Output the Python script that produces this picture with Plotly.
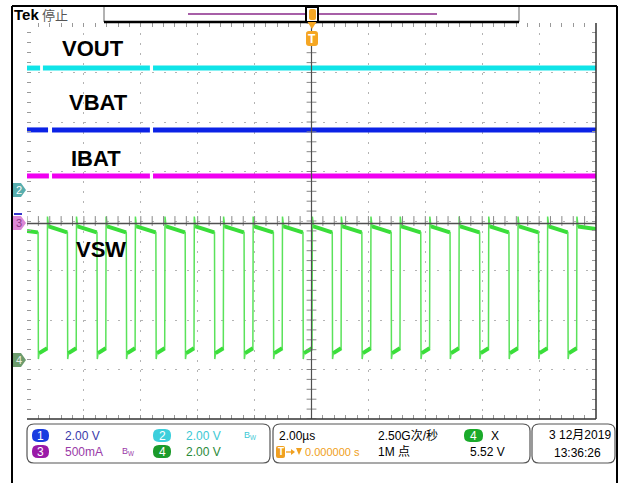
import plotly.graph_objects as go

# ---------------- data ----------------
# time base: 2.00 us/div, 10 divisions -> -10..10 us
time_range_us = [-10, 10]
# channel scales (per division) and ground-marker offsets (divisions from centre)
ch_scale = {"1": 2.0, "2": 2.0, "3": 0.5, "4": 2.0}
ch_offset = {"1": 0.14, "2": 0.63, "3": -0.04, "4": -2.81}

# flat traces: level and visible segments (us)
vout_level_v = 4.92            # CH2
vout_segments_us = [(-10, -9.54), (-9.44, -5.68), (-5.57, 10)]
vbat_level_v = 3.40            # CH1
vbat_segments_us = [(-10, -9.26), (-9.12, -5.68), (-5.57, 10)]
ibat_level_a = 0.475           # CH3
ibat_segments_us = [(-10, -9.23), (-9.12, -5.68), (-5.57, 10)]

# VSW (CH4) switching waveform: edge times (us) and levels (V)
vsw_fall_us = [-9.61, -8.58, -7.54, -6.51, -5.47, -4.44, -3.41, -2.37, -1.34, -0.30,
               0.73, 1.77, 2.80, 3.84, 4.87, 5.91, 6.94, 7.98, 9.01]
vsw_rise_us = [-9.29, -8.27, -7.23, -6.20, -5.16, -4.13, -3.10, -2.06, -1.03, 0.02,
               1.04, 2.08, 3.11, 4.15, 5.18, 6.22, 7.25, 8.29, 9.32]
vsw_high_after_rise = 5.40
vsw_high_before_fall = 5.16
vsw_overshoot = 5.80
vsw_undershoot = 0.04
vsw_low_start = 0.28
vsw_low_end = 0.48
vsw_left_level = 5.22
vsw_right_level = 5.30

cursor_v = 5.52  # CH4 cursor readout

labels = ["VOUT", "VBAT", "IBAT", "VSW"]

# ---------------- geometry helpers ----------------
W, H = 619, 483
GL, GR, GT, GB = 27, 596, 23, 419   # graticule edges in pixels


def px(x):
    return (x - GL) / (GR - GL)


def py(y):
    return (GB - y) / (GB - GT)


def div(v, ch):
    return v / ch_scale[ch] + ch_offset[ch]


def rrect(x0, y0, x1, y1, r):
    pts = [
        ("M", x0 + r, y0), ("L", x1 - r, y0), ("Q", x1, y0, x1, y0 + r),
        ("L", x1, y1 - r), ("Q", x1, y1, x1 - r, y1), ("L", x0 + r, y1),
        ("Q", x0, y1, x0, y1 - r), ("L", x0, y0 + r), ("Q", x0, y0, x0 + r, y0),
    ]
    s = ""
    for p in pts:
        cmd = p[0]
        coords = p[1:]
        parts = []
        for i in range(0, len(coords), 2):
            parts.append(f"{px(coords[i]):.5f},{py(coords[i + 1]):.5f}")
        s += cmd + " " + " ".join(parts) + " "
    return s + "Z"


def poly(points):
    s = ""
    for i, (x, y) in enumerate(points):
        s += ("M " if i == 0 else "L ") + f"{px(x):.5f},{py(y):.5f} "
    return s + "Z"


fig = go.Figure()


# ---------------- flat traces ----------------
def seg_trace(segments, level, ch, color, width):
    xs, ys = [], []
    for a, b in segments:
        xs += [a, b, None]
        ys += [div(level, ch), div(level, ch), None]
    fig.add_trace(go.Scatter(x=xs, y=ys, mode="lines",
                             line=dict(color=color, width=width),
                             hoverinfo="skip", showlegend=False))


seg_trace(vout_segments_us, vout_level_v, "2", "#10e4e8", 5)
seg_trace(vbat_segments_us, vbat_level_v, "1", "#0b22e6", 5)
seg_trace(ibat_segments_us, ibat_level_a, "3", "#f000f0", 5)

# ---------------- VSW ----------------
wx, wy = [time_range_us[0]], [vsw_left_level]
tx, ty = [time_range_us[0], vsw_fall_us[0] - 0.01, None], [vsw_left_level, vsw_high_before_fall, None]
for i, (f, r) in enumerate(zip(vsw_fall_us, vsw_rise_us)):
    wx += [f, f + 0.01, f + 0.04, r, r + 0.01, r + 0.05]
    wy += [vsw_high_before_fall, vsw_undershoot, vsw_low_start, vsw_low_end,
           vsw_overshoot, vsw_high_after_rise]
    tx += [f + 0.04, r, None]
    ty += [vsw_low_start, vsw_low_end, None]
    nxt = vsw_fall_us[i + 1] if i + 1 < len(vsw_fall_us) else None
    if nxt is not None:
        tx += [r + 0.05, nxt - 0.01, None]
        ty += [vsw_high_after_rise, vsw_high_before_fall, None]
    else:
        tx += [r + 0.05, time_range_us[1], None]
        ty += [vsw_high_after_rise, vsw_right_level, None]
wx.append(time_range_us[1])
wy.append(vsw_right_level)

fig.add_trace(go.Scatter(x=wx, y=[div(v, "4") for v in wy], mode="lines",
                         line=dict(color="#5ae25a", width=1.5),
                         hoverinfo="skip", showlegend=False))
fig.add_trace(go.Scatter(x=tx, y=[None if v is None else div(v, "4") for v in ty],
                         mode="lines", line=dict(color="#3ade3a", width=4),
                         hoverinfo="skip", showlegend=False))

# ---------------- centre-cross ticks ----------------
minor_x = [time_range_us[0] + 0.4 * k for k in range(51)]
minor_y = [-4 + 0.2 * k for k in range(41)]
fig.add_trace(go.Scatter(x=minor_x, y=[0] * len(minor_x), mode="markers",
                         marker=dict(symbol="line-ns", size=7,
                                     line=dict(color="#888888", width=1)),
                         hoverinfo="skip", showlegend=False))
fig.add_trace(go.Scatter(x=[0] * len(minor_y), y=minor_y, mode="markers",
                         marker=dict(symbol="line-ew", size=7,
                                     line=dict(color="#888888", width=1)),
                         hoverinfo="skip", showlegend=False))

shapes = []
ann = []

# cursor / trigger lines
shapes.append(dict(type="line", xref="x", yref="y", x0=-10, x1=10,
                   y0=div(cursor_v, "4"), y1=div(cursor_v, "4"),
                   line=dict(color="#505050", width=1.5)))
shapes.append(dict(type="line", xref="x", yref="paper", x0=0, x1=0, y0=0, y1=1,
                   line=dict(color="#505050", width=1.2)))
# graticule solid bottom/right edges
shapes.append(dict(type="line", xref="paper", yref="paper", x0=0, x1=1, y0=0, y1=0,
                   line=dict(color="#333333", width=1.5)))
shapes.append(dict(type="line", xref="paper", yref="paper", x0=1, x1=1, y0=0, y1=1,
                   line=dict(color="#333333", width=1.5)))


def pline(x0, y0, x1, y1, color, width):
    shapes.append(dict(type="line", xref="paper", yref="paper",
                       x0=px(x0), y0=py(y0), x1=px(x1), y1=py(y1),
                       line=dict(color=color, width=width)))


def ppath(path, fill, line_color=None, width=0):
    shapes.append(dict(type="path", xref="paper", yref="paper", path=path,
                       fillcolor=fill, line=dict(color=line_color or fill, width=width)))


RO_FONT = "Liberation Sans, Arial, Noto Sans CJK SC"


def text(x, y, s, size=12, color="#000", anchor="left", bold=False, family=RO_FONT):
    ann.append(dict(x=px(x), y=py(y), xref="paper", yref="paper",
                    text=f"<b>{s}</b>" if bold else s, showarrow=False,
                    xanchor=anchor, yanchor="middle",
                    font=dict(size=size, color=color, family=family)))


# outer frame
pline(12, 6, 617, 6, "#000", 2)
pline(12, 6, 12, 483, "#000", 2)
pline(617, 6, 617, 483, "#000", 2)

# top bar
text(12, 14.5, "Tek", size=15, bold=True)
text(40, 14, "停止", size=13, color="#555555", family="Noto Sans CJK SC")
pline(104, 7, 104, 22, "#999999", 1.5)
pline(519, 7, 519, 22, "#999999", 1.5)
pline(104, 22, 519, 22, "#000", 2.5)
pline(188, 14, 437, 14, "#8a2a8a", 1.5)
shapes.append(dict(type="rect", xref="paper", yref="paper",
                   x0=px(306), x1=px(318), y0=py(22), y1=py(7),
                   line=dict(color="#000", width=2), fillcolor="white"))
ppath(rrect(309, 9, 316, 20, 2), "#f5a623")
ppath(poly([(307.5, 22), (316.5, 22), (312, 29)]), "#f5a623")
ppath(rrect(306, 31, 318, 46, 3), "#f5a623")
text(312, 39, "T", size=12, color="white", anchor="center", bold=True)

# channel ground markers on the left
pline(14, 214, 22, 214, "#3333cc", 2)
ppath(poly([(13, 183), (21, 183), (26, 190), (21, 197), (13, 197)]), "#58aeae")
text(19, 190, "2", size=11, color="white", anchor="center")
ppath(poly([(13, 216), (21, 216), (26, 223), (21, 230), (13, 230)]), "#dc88d6")
text(19, 223, "3", size=11, color="#8a3a8a", anchor="center")
ppath(poly([(13, 353), (21, 353), (26, 360), (21, 367), (13, 367)]), "#6c9c6d")
text(19, 360, "4", size=11, color="#e8f0e8", anchor="center")

# trace labels
label_pos = [(93, 49), (98, 103), (96, 158), (101, 249)]
for s, (x, y) in zip(labels, label_pos):
    text(x, y, s, size=22, anchor="center", bold=True, family="Liberation Sans, Arial")

# bottom readout boxes
ppath(rrect(27, 424, 270, 463, 7), "white", "#555555", 1.2)
ppath(rrect(273, 424, 530, 463, 7), "white", "#555555", 1.2)
ppath(rrect(532, 424, 615, 463, 7), "white", "#555555", 1.2)


def badge(x0, y0, x1, y1, fill, s):
    ppath(rrect(x0, y0, x1, y1, 6), fill)
    text((x0 + x1) / 2, (y0 + y1) / 2, s, size=12, color="white", anchor="center")


badge(32, 429, 49, 442, "#1a3ce0", "1")
text(63, 436, "2.00 V", color="#3a3aaa")
badge(153, 429, 171, 442, "#3ccfdc", "2")
text(184, 436, "2.00 V", color="#3cc8d4")
text(242, 435, "B<sub>W</sub>", size=9, color="#3cc8d4")
badge(32, 445, 49, 458, "#9a1aa8", "3")
text(63, 452, "500mA", color="#9a3aa8")
text(120, 451, "B<sub>W</sub>", size=9, color="#9a3aa8")
badge(153, 445, 171, 458, "#1a9a2a", "4")
text(184, 452, "2.00 V", color="#2a8a3a")

text(277, 436, "2.00µs")
ORANGE = "#f0a020"
ppath(rrect(276, 446, 285, 458, 2), ORANGE)
text(280.5, 452, "T", size=10, color="white", anchor="center", bold=True)
pline(286, 452, 292, 452, ORANGE, 1.3)                    # arrow shaft
ppath(poly([(291, 449), (295, 452), (291, 455)]), ORANGE)  # arrow head
ppath(poly([(296, 448), (302, 448), (299, 455)]), ORANGE)  # trigger-point triangle
text(303, 452, "0.000000 s", size=11, color=ORANGE)
text(376, 436, "2.50G次/秒")
text(376, 452, "1M 点")
badge(464, 429, 483, 442, "#1aaa2a", "4")
text(489, 436, "X")
text(468, 452, "5.52 V")

text(613, 435, "3 12月2019", anchor="right")
text(552, 453, "13:36:26")

axis_common = dict(showticklabels=False, zeroline=False, showline=False,
                   ticks="inside", ticklen=4, tickcolor="#999999", mirror="ticks",
                   gridcolor="#b4b4b4", gridwidth=1, fixedrange=True)

fig.update_layout(
    width=W, height=H,
    margin=dict(l=GL, r=W - GR, t=GT, b=H - GB, pad=0),
    paper_bgcolor="white", plot_bgcolor="white",
    showlegend=False,
    xaxis=dict(range=time_range_us, dtick=2, tick0=0, griddash="2px,7.9px",
               minor=dict(dtick=0.4, ticks="inside", ticklen=4, tickcolor="#999999",
                          showgrid=False),
               **axis_common),
    yaxis=dict(range=[-4, 4], dtick=1, tick0=0, griddash="2px,9.4px",
               minor=dict(dtick=0.2, ticks="inside", ticklen=4, tickcolor="#999999",
                          showgrid=False),
               **axis_common),
    shapes=shapes,
    annotations=ann,
)

fig.write_html("out.html",
               config={"displayModeBar": False},
               post_script="document.body.style.margin='0px';"
                           "document.body.style.overflow='hidden';")
